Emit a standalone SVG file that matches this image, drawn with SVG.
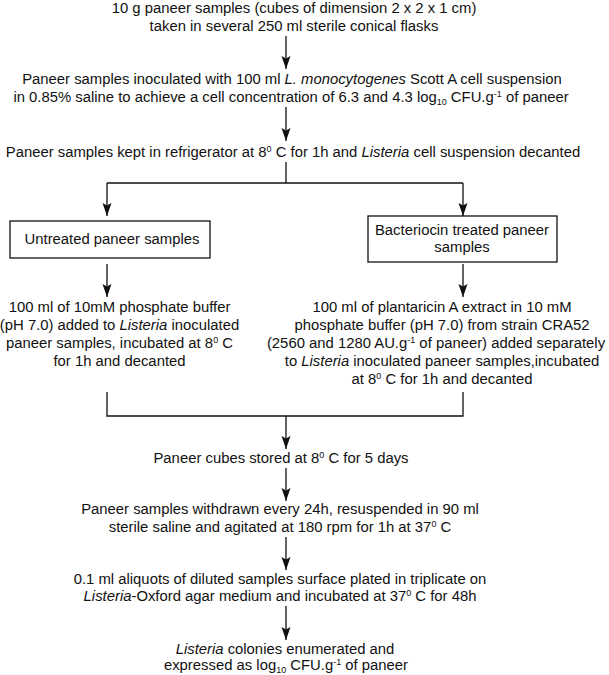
<svg xmlns="http://www.w3.org/2000/svg" width="609" height="675" viewBox="0 0 609 675">
<defs>
<style>
text{font-family:"Liberation Sans",Arial,sans-serif;font-size:14.85px;fill:#111;text-anchor:middle}
.i{font-style:italic}
.s{font-size:9px}
.ln{stroke:#111;stroke-width:1.3;fill:none}
.arr{stroke:#111;stroke-width:1.3;fill:none;marker-end:url(#ah)}
.box{fill:#fff;stroke:#111;stroke-width:1.3}
</style>
<marker id="ah" markerUnits="userSpaceOnUse" markerWidth="13" markerHeight="10" refX="13" refY="5" orient="auto" viewBox="0 0 13 10">
<path d="M0,0.5 L13,5 L0,9.5 L2.5,5 z" fill="#111"/>
</marker>
</defs>
<rect width="609" height="675" fill="#fff"/>
<g id="connectors">
<line class="arr" x1="286" y1="36" x2="286" y2="69"/>
<line class="arr" x1="286" y1="107" x2="286" y2="141"/>
<polyline class="ln" points="286,162 286,183"/>
<polyline class="ln" points="107,183 463,183"/>
<line class="arr" x1="107" y1="183" x2="107" y2="216"/>
<line class="arr" x1="463" y1="183" x2="463" y2="216"/>
<line class="arr" x1="107" y1="264" x2="107" y2="297"/>
<line class="arr" x1="463" y1="264" x2="463" y2="297"/>
<polyline class="ln" points="107,392 107,416 463,416 463,392"/>
<line class="arr" x1="286" y1="416" x2="286" y2="449"/>
<line class="arr" x1="286" y1="468" x2="286" y2="501"/>
<line class="arr" x1="286" y1="537" x2="286" y2="570"/>
<line class="arr" x1="286" y1="606" x2="286" y2="640"/>
</g>
<g id="n1">
<text x="294" y="13">10 g paneer samples (cubes of dimension 2 x 2 x 1 cm)</text>
<text x="294" y="31">taken in several 250 ml sterile conical flasks</text>
</g>
<g id="n2">
<text x="292" y="84">Paneer samples inoculated with 100 ml <tspan class="i">L. monocytogenes</tspan> Scott A cell suspension</text>
<text x="291" y="102">in 0.85% saline to achieve a cell concentration of 6.3 and 4.3 log<tspan class="s" dy="3">10</tspan><tspan dy="-3"> CFU.g</tspan><tspan class="s" dy="-5">-1</tspan><tspan dy="5"> of paneer</tspan></text>
</g>
<g id="n3">
<text x="293" y="157">Paneer samples kept in refrigerator at 8<tspan class="s" dy="-5">0</tspan><tspan dy="5"> C for 1h and </tspan><tspan class="i">Listeria</tspan> cell suspension decanted</text>
</g>
<g id="n4">
<rect class="box" x="10" y="221" width="200" height="37"/>
<text x="112" y="244">Untreated paneer samples</text>
</g>
<g id="n5">
<rect class="box" x="368" y="216" width="189" height="46"/>
<text x="462" y="235">Bacteriocin treated paneer</text>
<text x="462" y="252">samples</text>
</g>
<g id="n6">
<text x="119.5" y="312">100 ml of 10mM phosphate buffer</text>
<text x="119.5" y="330">(pH 7.0) added to <tspan class="i">Listeria</tspan> inoculated</text>
<text x="119.5" y="348">paneer samples, incubated at 8<tspan class="s" dy="-5">0</tspan><tspan dy="5"> C</tspan></text>
<text x="119.5" y="366">for 1h and decanted</text>
</g>
<g id="n7">
<text x="442" y="312">100 ml of plantaricin A extract in 10 mM</text>
<text x="442" y="330">phosphate buffer (pH 7.0) from strain CRA52</text>
<text x="436" y="348">(2560 and 1280 AU.g<tspan class="s" dy="-5">-1</tspan><tspan dy="5"> of paneer) added separately</tspan></text>
<text x="442" y="366">to <tspan class="i">Listeria</tspan> inoculated paneer samples,incubated</text>
<text x="442" y="384">at 8<tspan class="s" dy="-5">0</tspan><tspan dy="5"> C for 1h and decanted</tspan></text>
</g>
<g id="n8">
<text x="281" y="463">Paneer cubes stored at 8<tspan class="s" dy="-5">0</tspan><tspan dy="5"> C for 5 days</tspan></text>
</g>
<g id="n9">
<text x="280" y="514">Paneer samples withdrawn every 24h, resuspended in 90 ml</text>
<text x="280" y="532">sterile saline and agitated at 180 rpm for 1h at 37<tspan class="s" dy="-5">0</tspan><tspan dy="5"> C</tspan></text>
</g>
<g id="n10">
<text x="280" y="584">0.1 ml aliquots of diluted samples surface plated in triplicate on</text>
<text x="280" y="601"><tspan class="i">Listeria</tspan>-Oxford agar medium and incubated at 37<tspan class="s" dy="-5">0</tspan><tspan dy="5"> C for 48h</tspan></text>
</g>
<g id="n11">
<text x="285" y="654"><tspan class="i">Listeria</tspan> colonies enumerated and</text>
<text x="286" y="670">expressed as log<tspan class="s" dy="3">10</tspan><tspan dy="-3"> CFU.g</tspan><tspan class="s" dy="-5">-1</tspan><tspan dy="5"> of paneer</tspan></text>
</g>
</svg>
